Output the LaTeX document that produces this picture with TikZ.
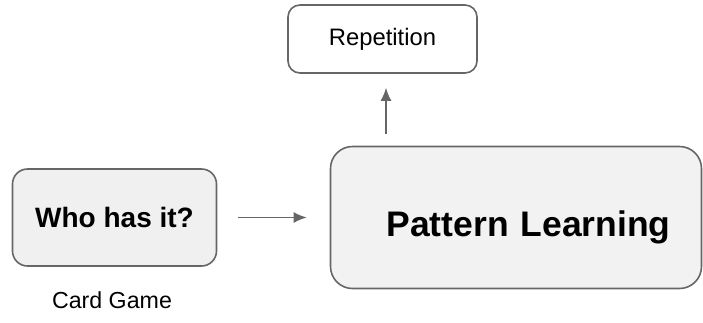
\documentclass[tikz,border=0pt]{standalone}
\usepackage{fontspec}
\setmainfont{Liberation Sans}
\usepackage{tikz}
\usetikzlibrary{arrows.meta}
\definecolor{edgegray}{HTML}{666666}
\definecolor{boxfill}{HTML}{F0F0F0}

\begin{document}
\begin{tikzpicture}[x=1pt,y=-1pt,
  box/.style={draw=edgegray,line width=1.6pt,inner sep=0pt},
  link/.style={draw=edgegray,line width=1.6pt,-{Latex[length=13pt,width=11pt]}}]
\useasboundingbox (0,0) rectangle (703,322);

\node[box,fill=boxfill,rounded corners=15pt,minimum width=204pt,minimum height=97pt,text height=20pt,text depth=0pt,font=\bfseries\fontsize{28}{30}\selectfont] (who) at (114.5,217.5) {Who has it?};
\node[box,fill=boxfill!90!white,rounded corners=22pt,minimum width=371pt,minimum height=142pt,text width=309pt,align=right,text height=38pt,text depth=0pt,font=\bfseries\fontsize{35.5}{40}\selectfont] (pat) at (516,217.5) {Pattern Learning};
\node[box,fill=white,rounded corners=12pt,minimum width=189pt,minimum height=68pt,font=\fontsize{23.8}{26}\selectfont] (rep) at (382.5,39) {Repetition};
\node[font=\fontsize{23.2}{26}\selectfont] (game) at (112,300) {Card Game};

\draw[link,shorten <=21pt,shorten >=23pt] (who.east) -- (pat.west);
\draw[link,shorten <=12pt,shorten >=14pt] ([xshift=3.5pt]pat.north -| rep.south) -- ([xshift=3.5pt]rep.south);

\end{tikzpicture}
\end{document}
